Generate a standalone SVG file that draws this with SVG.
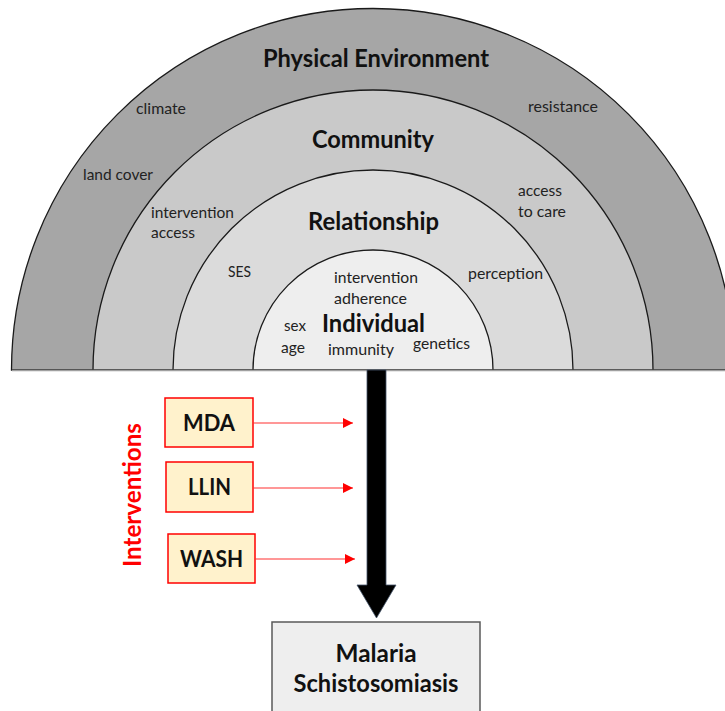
<svg xmlns="http://www.w3.org/2000/svg" width="725" height="711" viewBox="0 0 725 711">
  <defs>
    <marker id="redHead" viewBox="0 0 10 10" refX="10" refY="5" markerWidth="10" markerHeight="10" markerUnits="userSpaceOnUse" orient="auto">
      <path d="M0,0 L10,5 L0,10 Z" fill="#ff0000"/>
    </marker>
    <style>
      .ring { stroke: #1a1a1a; stroke-width: 1.3; }
      .title { font-family: Lato, "Liberation Sans", sans-serif; font-weight: bold; font-size: 24px; fill: #111; text-anchor: middle; }
      .small { font-family: Lato, "Liberation Sans", sans-serif; font-size: 16px; fill: #222; }
      .box { fill: #fff2cc; stroke: #ff0000; stroke-width: 1.5; }
      .boxlabel { font-family: Lato, "Liberation Sans", sans-serif; font-weight: bold; font-size: 23px; fill: #111; text-anchor: middle; }
      .link { stroke: #ff3030; stroke-width: 1.2; fill: none; }
    </style>
  </defs>
  <rect width="725" height="711" fill="#ffffff"/>

  <!-- nested half-discs of the socio-ecological model -->
  <g id="physical-environment">
    <path class="ring" d="M11.5,370 A361.5,361.5 0 0 1 734.5,370 Z" fill="#a6a6a6"/>
    <text class="title" x="376" y="67" textLength="226" lengthAdjust="spacingAndGlyphs">Physical Environment</text>
    <text class="small" x="136" y="114" textLength="50" lengthAdjust="spacingAndGlyphs">climate</text>
    <text class="small" x="83" y="180" textLength="70" lengthAdjust="spacingAndGlyphs">land cover</text>
    <text class="small" x="528" y="112" textLength="70" lengthAdjust="spacingAndGlyphs">resistance</text>
  </g>
  <g id="community">
    <path class="ring" d="M93,370 A280,280 0 0 1 653,370 Z" fill="#c9c9c9"/>
    <text class="title" x="373" y="148" textLength="122" lengthAdjust="spacingAndGlyphs">Community</text>
    <text class="small" x="151" y="218" textLength="83" lengthAdjust="spacingAndGlyphs">intervention</text>
    <text class="small" x="151" y="238" textLength="44" lengthAdjust="spacingAndGlyphs">access</text>
    <text class="small" x="518" y="196" textLength="44" lengthAdjust="spacingAndGlyphs">access</text>
    <text class="small" x="518" y="217" textLength="48" lengthAdjust="spacingAndGlyphs">to care</text>
  </g>
  <g id="relationship">
    <path class="ring" d="M173,370 A200,200 0 0 1 573,370 Z" fill="#dbdbdb"/>
    <text class="title" x="373.5" y="230" textLength="131" lengthAdjust="spacingAndGlyphs">Relationship</text>
    <text class="small" x="228" y="277" textLength="23" lengthAdjust="spacingAndGlyphs">SES</text>
    <text class="small" x="468" y="279" textLength="75" lengthAdjust="spacingAndGlyphs">perception</text>
  </g>
  <g id="individual">
    <path class="ring" d="M253,370 A120,120 0 0 1 493,370 Z" fill="#eeeeee"/>
    <text class="title" x="373.5" y="332" textLength="103" lengthAdjust="spacingAndGlyphs">Individual</text>
    <text class="small" x="334" y="283" textLength="84" lengthAdjust="spacingAndGlyphs">intervention</text>
    <text class="small" x="334" y="304" textLength="73" lengthAdjust="spacingAndGlyphs">adherence</text>
    <text class="small" x="284" y="331" textLength="22" lengthAdjust="spacingAndGlyphs">sex</text>
    <text class="small" x="281" y="353" textLength="24" lengthAdjust="spacingAndGlyphs">age</text>
    <text class="small" x="328" y="355" textLength="66" lengthAdjust="spacingAndGlyphs">immunity</text>
    <text class="small" x="413" y="349" textLength="57" lengthAdjust="spacingAndGlyphs">genetics</text>
  </g>
  <line x1="12" y1="370.5" x2="725" y2="370.5" stroke="#a0a0a0" stroke-width="1.5"/>

  <!-- intervention boxes -->
  <text id="interventions-label" x="0" y="0" transform="translate(141,495) rotate(-90)" font-family="Lato, 'Liberation Sans', sans-serif" font-weight="bold" font-size="25" fill="#ff0000" text-anchor="middle" textLength="144" lengthAdjust="spacingAndGlyphs">Interventions</text>
  <g id="mda">
    <rect class="box" x="165" y="398" width="88" height="49"/>
    <text class="boxlabel" x="209" y="431" textLength="52" lengthAdjust="spacingAndGlyphs">MDA</text>
  </g>
  <g id="llin">
    <rect class="box" x="166" y="462" width="87" height="50"/>
    <text class="boxlabel" x="209.5" y="495" textLength="43" lengthAdjust="spacingAndGlyphs">LLIN</text>
  </g>
  <g id="wash">
    <rect class="box" x="168" y="534" width="87" height="49"/>
    <text class="boxlabel" x="211.5" y="567" textLength="63" lengthAdjust="spacingAndGlyphs">WASH</text>
  </g>

  <!-- outcome box -->
  <g id="outcome">
    <rect x="272" y="622" width="208" height="100" fill="#eeeeee" stroke="#595959" stroke-width="1.5"/>
    <text class="title" x="376" y="662" textLength="81" lengthAdjust="spacingAndGlyphs">Malaria</text>
    <text class="title" x="376" y="692" textLength="165" lengthAdjust="spacingAndGlyphs">Schistosomiasis</text>
  </g>

  <!-- connectors -->
  <g id="connectors">
    <path d="M367,370 L386,370 L386,585 L396,585 L376.5,618 L357,585 L367,585 Z" fill="#000000" stroke="#44546a" stroke-width="0.8"/>
    <line class="link" x1="253" y1="423" x2="353" y2="423" marker-end="url(#redHead)"/>
    <line class="link" x1="253" y1="488" x2="353" y2="488" marker-end="url(#redHead)"/>
    <line class="link" x1="255" y1="559" x2="355" y2="559" marker-end="url(#redHead)"/>
  </g>
</svg>
